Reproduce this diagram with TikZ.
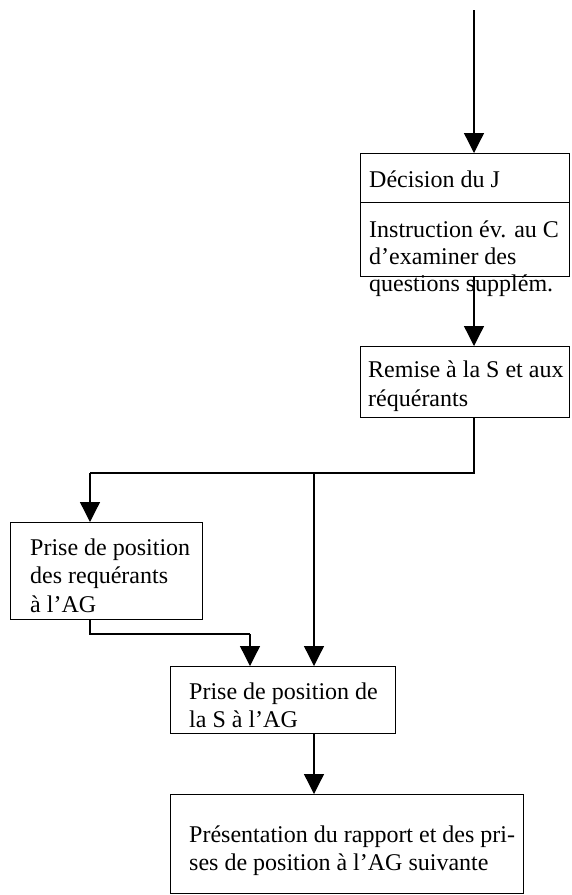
\documentclass[tikz,border=0pt]{standalone}
\usepackage{fontspec}
\setmainfont{Liberation Serif}
\usetikzlibrary{arrows.meta}
\begin{document}
\begin{tikzpicture}[x=1pt,y=-1pt,
  box/.style={draw,line width=1.3pt,rectangle,inner sep=0pt,anchor=north west},
  conn/.style={line width=1.3pt},
  arr/.style={line width=1.3pt,-{Triangle[length=20pt,width=20pt]}},
  txt/.style={anchor=base west,inner sep=0pt,font=\fontsize{24}{27.6}\selectfont}]
\useasboundingbox (0,0) rectangle (571,895);
% boxes
\node[box,minimum width=209pt,minimum height=49pt] (dec) at (360,153) {};
\node[box,minimum width=209pt,minimum height=74pt] (instr) at (360,202) {};
\node[box,minimum width=209pt,minimum height=71pt] (rem) at (360,346) {};
\node[box,minimum width=192pt,minimum height=97pt] (preq) at (10,522) {};
\node[box,minimum width=225pt,minimum height=67pt] (ps) at (170,666) {};
\node[box,minimum width=353pt,minimum height=99pt] (pres) at (170,794) {};
% coordinates
\coordinate (start) at (474,10);
\coordinate (split) at (474,473);
\coordinate (splitL) at (90,473);
\coordinate (splitM) at (314,473);
\coordinate (joinL) at (90,634);
\coordinate (joinR) at (250,634);
% connectors
\draw[arr] (start) -- (start |- dec.north);
\draw[arr] (instr.south -| start) -- (start |- rem.north);
\draw[conn] (rem.south -| start) -- (split) -- (splitL);
\draw[arr] (splitL) -- (splitL |- preq.north);
\draw[arr] (splitM) -- (splitM |- ps.north);
\draw[conn] (preq.south -| joinL) -- (joinL) -- (joinR);
\draw[arr] (joinR) -- (joinR |- ps.north);
\draw[arr] (ps.south -| splitM) -- (splitM |- pres.north);
% texts
\node[txt] (t1) at (369,187) {Décision du J};
\node[txt] (t2) at (369,237) {Instruction év. au C};
\node[txt] (t3) at (369,264) {d’examiner des};
\node[txt] (t4) at (369,291) {questions supplém.};
\node[txt] (t5) at (368,377) {Remise à la S et aux};
\node[txt] (t6) at (368,406) {réquérants};
\node[txt] (t7) at (30,555) {Prise de position};
\node[txt] (t8) at (30,583) {des requérants};
\node[txt] (t9) at (30,612) {à l’AG};
\node[txt] (t10) at (189,699) {Prise de position de};
\node[txt] (t11) at (189,727) {la S à l’AG};
\node[txt] (t12) at (189,842) {Présentation du rapport et des pri-};
\node[txt] (t13) at (189,870) {ses de position à l’AG suivante};
\end{tikzpicture}
\end{document}
